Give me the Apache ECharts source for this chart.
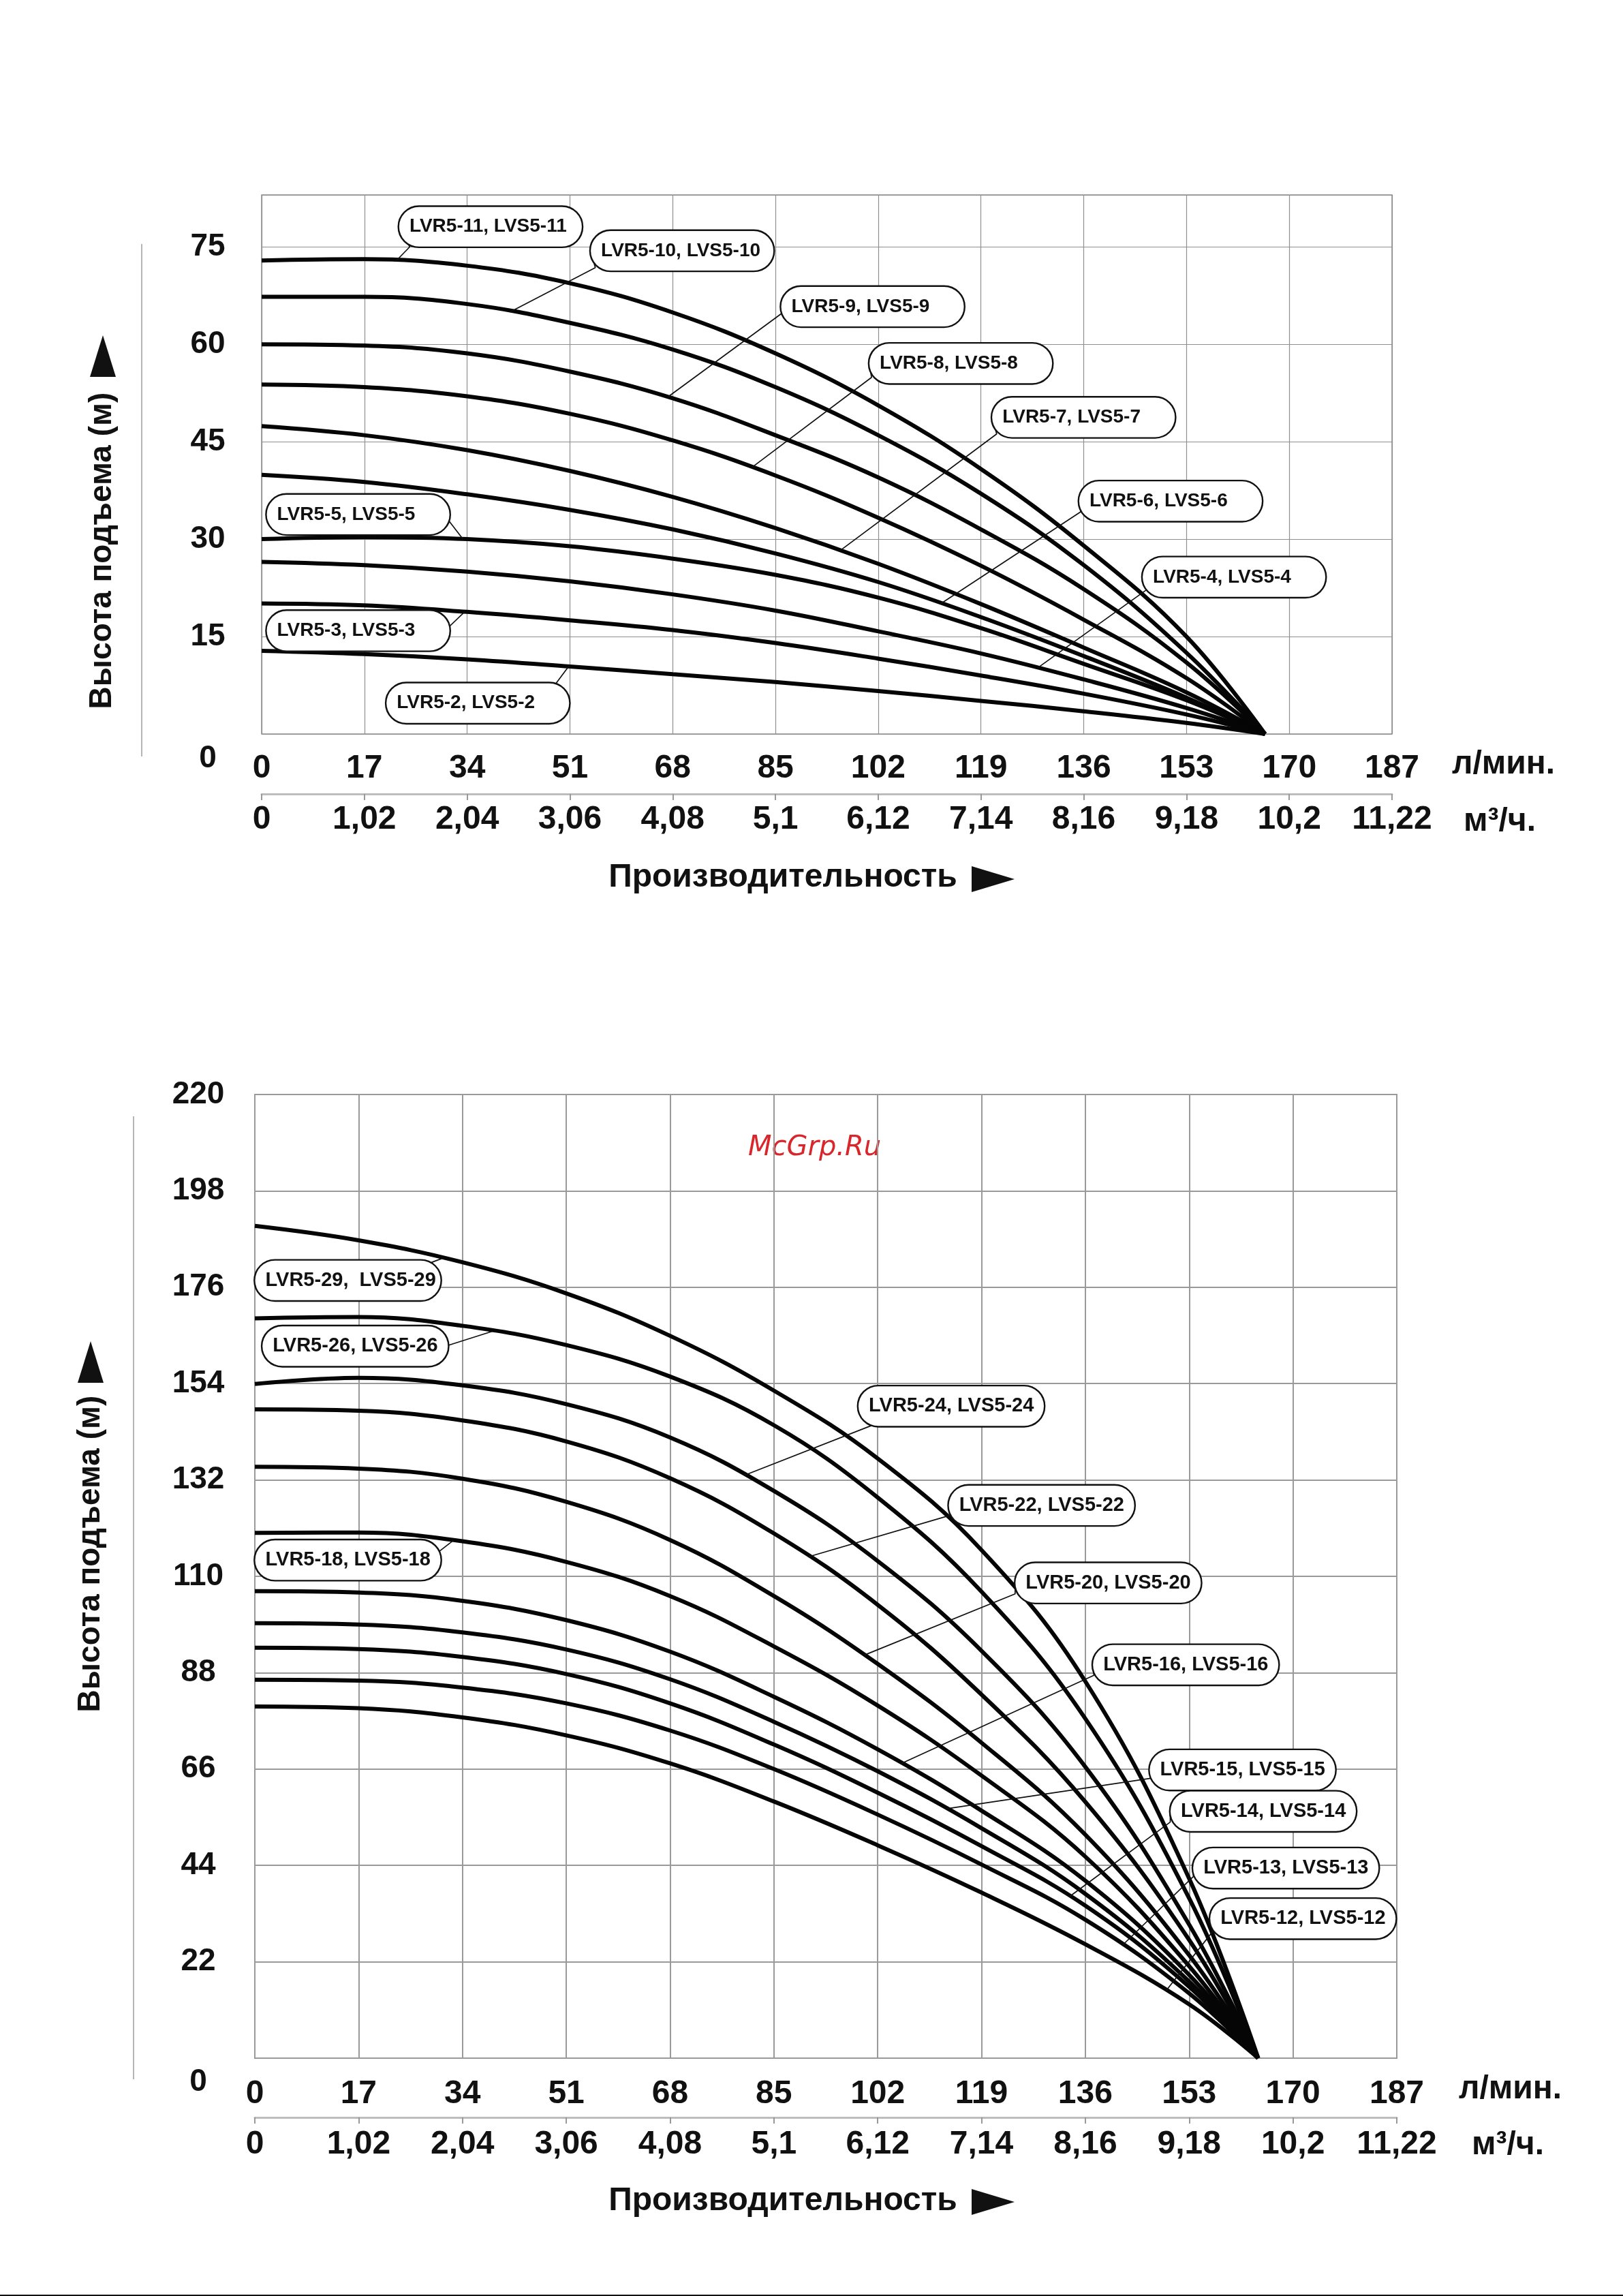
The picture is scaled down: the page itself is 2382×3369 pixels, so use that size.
<!DOCTYPE html>
<html><head><meta charset="utf-8">
<script src="https://cdn.jsdelivr.net/npm/echarts@6/dist/echarts.min.js"></script>
<style>html,body{margin:0;padding:0;background:#fff}#c{width:2382px;height:3369px}</style>
</head><body><div id="c"></div>
<script>
// ---------- tick labels ----------
const flowLmin = [0,17,34,51,68,85,102,119,136,153,170,187];
const flowM3h = ['0','1,02','2,04','3,06','4,08','5,1','6,12','7,14','8,16','9,18','10,2','11,22'];
const headTicksTop = [0,15,30,45,60,75];
const headTicksBottom = [0,22,44,66,88,110,132,154,176,198,220];

// ---------- top chart (flow points, L/min) ----------
const qTop = [0,17,34,51,68,85,102,119,136,153,166];
const head_5_11 = [72.9,73.1,72.1,69.4,64.9,58.6,50.6,40.8,29.0,15.0,0];
const head_5_10 = [67.3,67.3,66.2,63.3,59.2,53.4,46.0,37.0,26.0,12.5,0];
const head_5_9  = [60.0,59.8,58.6,55.8,51.7,46.0,39.5,31.5,22.3,11.0,0];
const head_5_8  = [53.8,53.4,52.0,49.3,45.2,39.8,33.3,25.9,17.6,8.6,0];
const head_5_7  = [47.4,46.0,43.7,40.5,36.5,31.7,26.2,20.0,13.3,6.4,0];
const head_5_6  = [39.9,38.8,36.9,34.5,31.5,27.8,23.4,18.0,12.0,5.6,0];
const head_5_5  = [30.0,30.3,30.0,28.9,27.0,24.5,21.0,16.3,10.8,5.2,0];
const head_5_4  = [26.5,26.0,25.0,23.5,21.5,19.0,15.8,12.4,8.4,4.0,0];
const head_5_3  = [20.1,19.8,18.8,17.5,16.0,14.0,11.6,9.0,6.2,3.0,0];
const head_5_2  = [12.8,12.3,11.5,10.4,9.2,8.0,6.6,5.1,3.5,1.7,0];

// ---------- bottom chart ----------
const qBottom = [0,17,34,51,68,85,102,119,136,153,164.3];
const head_5_29 = [190.0,186.7,181.7,174.6,164.9,152.4,136.9,116.0,86.0,41.0,0];
const head_5_26 = [168.9,169.2,167.2,162.8,155.6,144.5,128.0,106.5,77.5,36.5,0];
const head_5_24 = [153.9,155.3,153.6,149.3,141.7,129.5,113.5,93.0,66.5,30.5,0];
const head_5_22 = [148.1,147.8,145.6,140.8,132.4,119.8,103.5,83.0,58.5,27.0,0];
const head_5_20 = [135.0,134.6,132.3,127.0,118.3,105.5,90.0,72.0,51.0,23.5,0];
const head_5_18 = [119.9,120.0,118.0,113.3,105.5,94.0,80.5,64.5,46.0,21.0,0];
const head_5_16 = [106.6,106.3,104.4,100.0,92.8,82.5,70.5,56.5,40.5,19.0,0];
const head_5_15 = [99.3,99.0,97.2,93.3,86.5,76.8,65.5,52.5,37.5,17.5,0];
const head_5_14 = [93.7,93.4,91.6,87.7,81.0,71.6,60.6,48.4,34.8,16.3,0];
const head_5_13 = [86.4,86.2,84.6,81.0,74.8,66.0,55.6,44.2,31.6,14.8,0];
const head_5_12 = [80.3,79.9,77.8,73.7,67.3,58.6,48.6,37.8,26.0,12.3,0];

const modelsTop = ['LVR5-11, LVS5-11','LVR5-10, LVS5-10','LVR5-9, LVS5-9','LVR5-8, LVS5-8','LVR5-7, LVS5-7','LVR5-6, LVS5-6','LVR5-5, LVS5-5','LVR5-4, LVS5-4','LVR5-3, LVS5-3','LVR5-2, LVS5-2'];
const headsTop = [head_5_11,head_5_10,head_5_9,head_5_8,head_5_7,head_5_6,head_5_5,head_5_4,head_5_3,head_5_2];
const modelsBottom = ['LVR5-29,  LVS5-29','LVR5-26, LVS5-26','LVR5-24, LVS5-24','LVR5-22, LVS5-22','LVR5-20, LVS5-20','LVR5-18, LVS5-18','LVR5-16, LVS5-16','LVR5-15, LVS5-15','LVR5-14, LVS5-14','LVR5-13, LVS5-13','LVR5-12, LVS5-12'];
const headsBottom = [head_5_29,head_5_26,head_5_24,head_5_22,head_5_20,head_5_18,head_5_16,head_5_15,head_5_14,head_5_13,head_5_12];

// ---------- annotation placement (data coordinates) ----------
const annTop = [
  {i:0, cx:22.2,  attach:[24.5,75.0],  box:[22.7,78.1]},
  {i:1, cx:41.1,  attach:[55.2,71.8],  box:[54.4,74.4]},
  {i:2, cx:67.2,  attach:[86.4,65.0],  box:[85.9,65.8]},
  {i:3, cx:81.1,  attach:[100.9,54.9], box:[100.5,57.05]},
  {i:4, cx:95.7,  attach:[121.6,46.2], box:[120.8,48.75]},
  {i:5, cx:112.4, attach:[135.5,34.2], box:[135.2,35.85]},
  {i:6, cx:33.3,  attach:[31.0,32.8],  box:[0.8,33.8]},
  {i:7, cx:128.4, attach:[146.4,22.2], box:[145.7,24.15]},
  {i:8, cx:33.6,  attach:[31.0,16.5],  box:[0.8,15.9]},
  {i:9, cx:50.8,  attach:[48.7,7.8],   box:[20.6,4.75]}
];
const annBottom = [
  {i:0, cx:30.8,  attach:[29.0,181.7], box:[0,177.55]},
  {i:1, cx:38.9,  attach:[31.6,162.7], box:[1.2,162.55]},
  {i:2, cx:80.1,  attach:[101.3,144.6],box:[98.8,148.85]},
  {i:3, cx:90.6,  attach:[113.8,123.9],box:[113.6,126.2]},
  {i:4, cx:99.8,  attach:[124.5,106.0],box:[124.5,108.5]},
  {i:5, cx:32.5,  attach:[30.2,115.7], box:[0,113.7]},
  {i:6, cx:105.9, attach:[137.4,87.4], box:[137.2,89.8]},
  {i:7, cx:113.2, attach:[146.7,63.9], box:[146.5,65.8]},
  {i:8, cx:133.4, attach:[149.9,53.9], box:[149.9,56.35]},
  {i:9, cx:142.0, attach:[153.7,41.5], box:[153.6,43.4]},
  {i:10,cx:149.2, attach:[156.9,29.0], box:[156.4,31.85]}
];

// ---------- fonts ----------
const FONT = '"Liberation Sans", Arial, sans-serif';
const ctx = document.createElement('canvas').getContext('2d');
function fontExists(name){
  const s = 'LVR5-11, LVS5-11 mmWW';
  ctx.font = 'bold 50px monospace'; const a = ctx.measureText(s).width;
  ctx.font = 'bold 50px "' + name + '", monospace'; const b = ctx.measureText(s).width;
  return Math.abs(a - b) > 0.5;
}
const hasNarrow = fontExists('Liberation Sans Narrow');
const boxFamily = hasNarrow ? '"Liberation Sans Narrow"' : '"Liberation Sans"';
const boxFontTop = hasNarrow ? 31 : 28;
const boxFontBottom = hasNarrow ? 33 : 29;

function interp(q, h, x){
  for (let k = 0; k < q.length - 1; k++){
    if (x >= q[k] && x <= q[k+1]) return h[k] + (h[k+1]-h[k]) * (x - q[k]) / (q[k+1]-q[k]);
  }
  return h[h.length-1];
}

const series = [];
function addCurves(q, heads, names, xi, yi, w){
  heads.forEach((h, k) => series.push({
    type:'line', name:names[k], xAxisIndex:xi, yAxisIndex:yi, smooth:0.4,
    symbol:'none', z:2, silent:true,
    lineStyle:{color:'#050505', width:w},
    data:q.map((x, j) => [x, h[j]])
  }));
}
function addAnn(list, q, heads, names, xi, yi, boxW, boxH, fs){
  list.forEach(a => {
    const cy = interp(q, heads[a.i], a.cx);
    series.push({
      type:'line', xAxisIndex:xi, yAxisIndex:yi, silent:true, clip:false, z:10,
      symbol:'circle', symbolSize:1, showSymbol:true,
      itemStyle:{color:'rgba(0,0,0,0)'},
      lineStyle:{color:'#111', width:1.7},
      emphasis:{disabled:true},
      label:{show:false},
      data:[[a.cx, cy], a.attach, {value:a.box, label:{
        show:true, position:'right', distance:0,
        formatter:'{t|' + names[a.i] + '}',
        backgroundColor:'#fff', borderColor:'#111', borderWidth:2.4, borderRadius:boxH/2,
        padding:[0,0,0,15],
        rich:{t:{width:boxW-15, height:boxH, lineHeight:boxH, fontSize:fs, fontWeight:'bold',
                 fontFamily:boxFamily, color:'#111', align:'left'}}
      }}]
    });
  });
}
addCurves(qTop, headsTop, modelsTop, 0, 0, 6);
addCurves(qBottom, headsBottom, modelsBottom, 2, 1, 6);
addAnn(annTop, qTop, headsTop, modelsTop, 0, 0, 268, 58, boxFontTop);
addAnn(annBottom, qBottom, headsBottom, modelsBottom, 2, 1, 272, 58, boxFontBottom);

function yAxisDef(gi, max, interval, ticks, margin, zeroShift, gridColor, gridW){
  return {
    type:'value', gridIndex:gi, min:0, max:max, interval:interval,
    axisLine:{show:false}, axisTick:{show:false},
    splitLine:{show:true, lineStyle:{color:gridColor, width:gridW}},
    axisLabel:{
      margin:margin, align:'center', fontSize:46, fontWeight:'bold', fontFamily:FONT, color:'#111',
      formatter:v => { if (v === 0) return '{z|0}'; return ticks.includes(v) ? String(v) : ''; },
      rich:{z:{padding:[zeroShift*2,0,0,0], fontSize:46, fontWeight:'bold', fontFamily:FONT, color:'#111'}}
    }
  };
}
function xAxesDef(gi, gridColor, gridW, g){
  const lab = {fontSize:48, fontWeight:'bold', fontFamily:FONT, color:'#111'};
  return [
    {type:'value', gridIndex:gi, min:0, max:187, interval:17, position:'bottom',
     axisLine:{show:false}, axisTick:{show:false},
     splitLine:{show:true, lineStyle:{color:gridColor, width:gridW}},
     axisLabel:Object.assign({margin:g.m1, formatter:v => String(flowLmin[Math.round(v/17)])}, lab),
     name:'л/мин.', nameLocation:'end', nameGap:g.n1gap,
     nameTextStyle:Object.assign({align:'left', verticalAlign:'top', lineHeight:g.n1lh}, lab)},
    {type:'value', gridIndex:gi, min:0, max:187, interval:17, position:'bottom', offset:g.off,
     axisLine:{show:true, lineStyle:{color:'#bdbdbd', width:3}},
     axisTick:{show:true, length:9, lineStyle:{color:'#999', width:2}},
     splitLine:{show:false},
     axisLabel:Object.assign({margin:g.m2, formatter:v => flowM3h[Math.round(v/17)]}, lab),
     name:'м³/ч.', nameLocation:'end', nameGap:g.n2gap,
     nameTextStyle:Object.assign({align:'left', verticalAlign:'top', lineHeight:g.n2lh}, lab)}
  ];
}

function titleY(x, y){
  return {type:'text', x:x, y:y, rotation:Math.PI/2, silent:true,
    style:{text:'Высота подъема (м)', font:'bold 46px ' + FONT, fill:'#111',
           align:'center', verticalAlign:'middle', textAlign:'center', textVerticalAlign:'middle'}};
}
function titleX(x, y){
  return {type:'text', x:x, y:y, silent:true,
    style:{text:'Производительность', font:'bold 48px ' + FONT, fill:'#111',
           align:'center', verticalAlign:'middle', textAlign:'center', textVerticalAlign:'middle'}};
}
function tri(points){
  return {type:'polygon', silent:true, shape:{points:points}, style:{fill:'#111'}};
}

const chart = echarts.init(document.getElementById('c'), null, {renderer:'canvas'});
chart.setOption({
  animation:false,
  backgroundColor:'#fff',
  grid:[
    {left:384, top:286, width:1659, height:791, show:true, borderColor:'#8f8f8f', borderWidth:1.5,
     containLabel:false, outerBoundsMode:'none'},
    {left:374, top:1606, width:1676, height:1414, show:true, borderColor:'#9a9a9a', borderWidth:2,
     containLabel:false, outerBoundsMode:'none'}
  ],
  xAxis:[
    ...xAxesDef(0, '#8f8f8f', 1.2, {m1:27, n1gap:88, n1lh:89, off:88, m2:14, n2gap:105, n2lh:82}),
    ...xAxesDef(1, '#9a9a9a', 2, {m1:29, n1gap:91, n1lh:92, off:87, m2:16, n2gap:110, n2lh:82})
  ],
  yAxis:[
    yAxisDef(0, 83, 15, headTicksTop, 79, 36, '#8f8f8f', 1.2),
    yAxisDef(1, 220, 22, headTicksBottom, 83, 35, '#9a9a9a', 2)
  ],
  series:series,
  graphic:[
    {type:'line', silent:true, shape:{x1:208, y1:358, x2:208, y2:1110}, style:{stroke:'#b5b5b5', lineWidth:2}},
    {type:'line', silent:true, shape:{x1:196, y1:1638, x2:196, y2:3051}, style:{stroke:'#b5b5b5', lineWidth:2}},
    titleY(150, 808),
    tri([[132,553],[151,492],[170,553]]),
    titleY(133, 2280),
    tri([[114,2029],[133,1968],[152,2029]]),
    titleX(1149, 1288),
    tri([[1426,1271],[1489,1290],[1426,1309]]),
    titleX(1149, 3230),
    tri([[1426,3212],[1489,3231],[1426,3250]]),
    {type:'text', x:1098, y:1685, silent:true,
     style:{text:'McGrp.Ru', font:'italic 40px "DejaVu Sans", sans-serif', fill:'#d9262b',
            align:'left', verticalAlign:'middle', textAlign:'left', textVerticalAlign:'middle'}},
    {type:'rect', silent:true, shape:{x:0, y:3367, width:2382, height:2}, style:{fill:'#111'}}
  ]
});
</script>
</body></html>
